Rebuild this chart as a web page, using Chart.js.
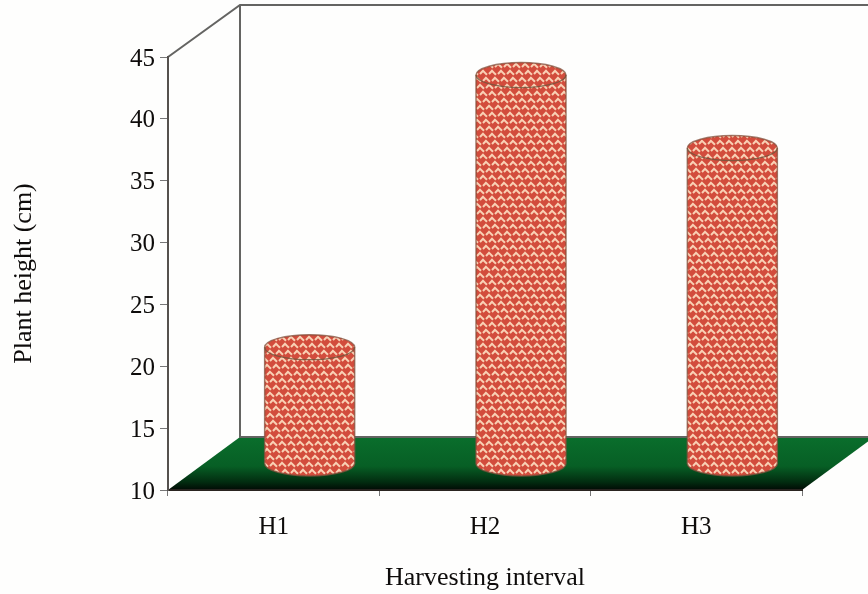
<!DOCTYPE html>
<html><head><meta charset="utf-8">
<style>html,body{margin:0;padding:0;background:#fefefd;overflow:hidden}#w{width:868px;height:594px;position:relative}canvas{filter:blur(0.6px)}</style>
<script src="https://cdn.jsdelivr.net/npm/chart.js@4"></script>
</head><body><div id="w"><canvas id="c" width="868" height="594"></canvas></div>
<script>
const categories = ["H1", "H2", "H3"];
const plantHeight = [19.4, 41.4, 35.5];
const yTicks = [10, 15, 20, 25, 30, 35, 40, 45];
const xTitle = "Harvesting interval";
const yTitle = "Plant height (cm)";

const DEPTH_X = 72, DEPTH_Y = 53, RX = 45, RY = 12.5;
const INK = "#0e0c0b";

function weave(ctx) {
  const t = document.createElement("canvas");
  t.width = 9; t.height = 21;
  const g = t.getContext("2d");
  g.fillStyle = "#d24c3c"; g.fillRect(0, 0, 9, 21);
  g.strokeStyle = "#f9d0b4"; g.lineWidth = 2; g.lineCap = "butt"; g.lineJoin = "miter";
  // rows of short uneven chevrons, each row shifted so the weave runs on a diagonal
  for (let row = 0; row < 3; row++) {
    const y = row * 7, shift = row * 3;
    for (let k = -2; k < 3; k++) {
      for (const dy of [0, 21, -21]) {
        const x = shift + k * 9;
        g.beginPath();
        g.moveTo(x, y + 4 + dy); g.lineTo(x + 3, y + 0.8 + dy); g.lineTo(x + 7, y + 4.8 + dy);
        g.stroke();
      }
    }
  }
  return ctx.createPattern(t, "repeat");
}

const scene = {
  id: "scene",
  beforeDraw(chart) {
    const { ctx, chartArea: a, width } = chart;
    const l = a.left, r = a.right, t = a.top, b = a.bottom;
    ctx.save();
    const grd = ctx.createLinearGradient(0, b - DEPTH_Y, 0, b);
    grd.addColorStop(0, "#0a6e2c");
    grd.addColorStop(0.55, "#075f25");
    grd.addColorStop(0.85, "#022c10");
    grd.addColorStop(1, "#010a04");
    ctx.fillStyle = grd;
    ctx.beginPath();
    ctx.moveTo(l, b); ctx.lineTo(r, b);
    ctx.lineTo(r + DEPTH_X, b - DEPTH_Y); ctx.lineTo(l + DEPTH_X, b - DEPTH_Y);
    ctx.closePath(); ctx.fill();
    ctx.strokeStyle = "#646462"; ctx.lineWidth = 2;
    ctx.beginPath();
    ctx.moveTo(l, t); ctx.lineTo(l + DEPTH_X, t - DEPTH_Y + 1); ctx.lineTo(width, t - DEPTH_Y + 1);
    ctx.moveTo(l + DEPTH_X, t - DEPTH_Y + 1); ctx.lineTo(l + DEPTH_X, b - DEPTH_Y);
    ctx.lineTo(r + DEPTH_X, b - DEPTH_Y);
    ctx.stroke();
    ctx.restore();
  },
  afterDatasetsDraw(chart) {
    const { ctx, scales } = chart;
    const fill = weave(ctx);
    const meta = chart.getDatasetMeta(0);
    const baseY = scales.y.getPixelForValue(10) - DEPTH_Y / 2;
    meta.data.forEach((bar) => {
      const cx = bar.x + DEPTH_X / 2;
      const topY = bar.y - DEPTH_Y / 2;
      ctx.save();
      ctx.beginPath();
      ctx.moveTo(cx - RX, topY);
      ctx.ellipse(cx, topY, RX, RY, 0, Math.PI, 0, false);
      ctx.lineTo(cx + RX, baseY);
      ctx.ellipse(cx, baseY, RX, RY, 0, 0, Math.PI, false);
      ctx.closePath();
      ctx.fillStyle = fill; ctx.fill();
      ctx.strokeStyle = "rgba(130,80,60,0.75)"; ctx.lineWidth = 1.5; ctx.stroke();
      ctx.beginPath();
      ctx.ellipse(cx, topY, RX, RY, 0, 0, Math.PI, false);
      ctx.strokeStyle = "rgba(110,85,60,0.8)"; ctx.lineWidth = 1.3; ctx.stroke();
      ctx.restore();
    });
  }
};

new Chart(document.getElementById("c"), {
  type: "bar",
  data: { labels: categories, datasets: [{ label: yTitle, data: plantHeight, backgroundColor: "rgba(0,0,0,0)", borderWidth: 0, categoryPercentage: 1, barPercentage: 0.42 }] },
  plugins: [scene],
  options: {
    responsive: false, animation: false,
    layout: { padding: { top: 57, right: 66, left: 0, bottom: 0 } },
    plugins: { legend: { display: false }, tooltip: { enabled: false } },
    scales: {
      x: {
        afterFit(s) { s.height = 104; },
        grid: { drawOnChartArea: false, tickLength: 6, color: "#777", tickColor: "#777" },
        border: { color: "#2a2420", width: 2 },
        ticks: { color: INK, padding: 16, maxRotation: 0, font: { family: "Liberation Serif", size: 25 } },
        title: { display: true, text: xTitle, color: INK, padding: { top: 20, bottom: 0 }, font: { family: "Liberation Serif", size: 26 } }
      },
      y: {
        min: 10, max: 45,
        afterFit(s) { s.width = 168; },
        afterBuildTicks(s) { s.ticks = yTicks.map(v => ({ value: v })); },
        grid: { drawOnChartArea: false, tickLength: 8, color: "#777", tickColor: "#777" },
        border: { color: "#55514e", width: 2 },
        ticks: { color: INK, padding: 5, labelOffset: 2, font: { family: "Liberation Serif", size: 25 } },
        title: { display: true, text: yTitle, color: INK, padding: { top: 9 }, font: { family: "Liberation Serif", size: 26 } }
      }
    }
  }
});
</script></body></html>
